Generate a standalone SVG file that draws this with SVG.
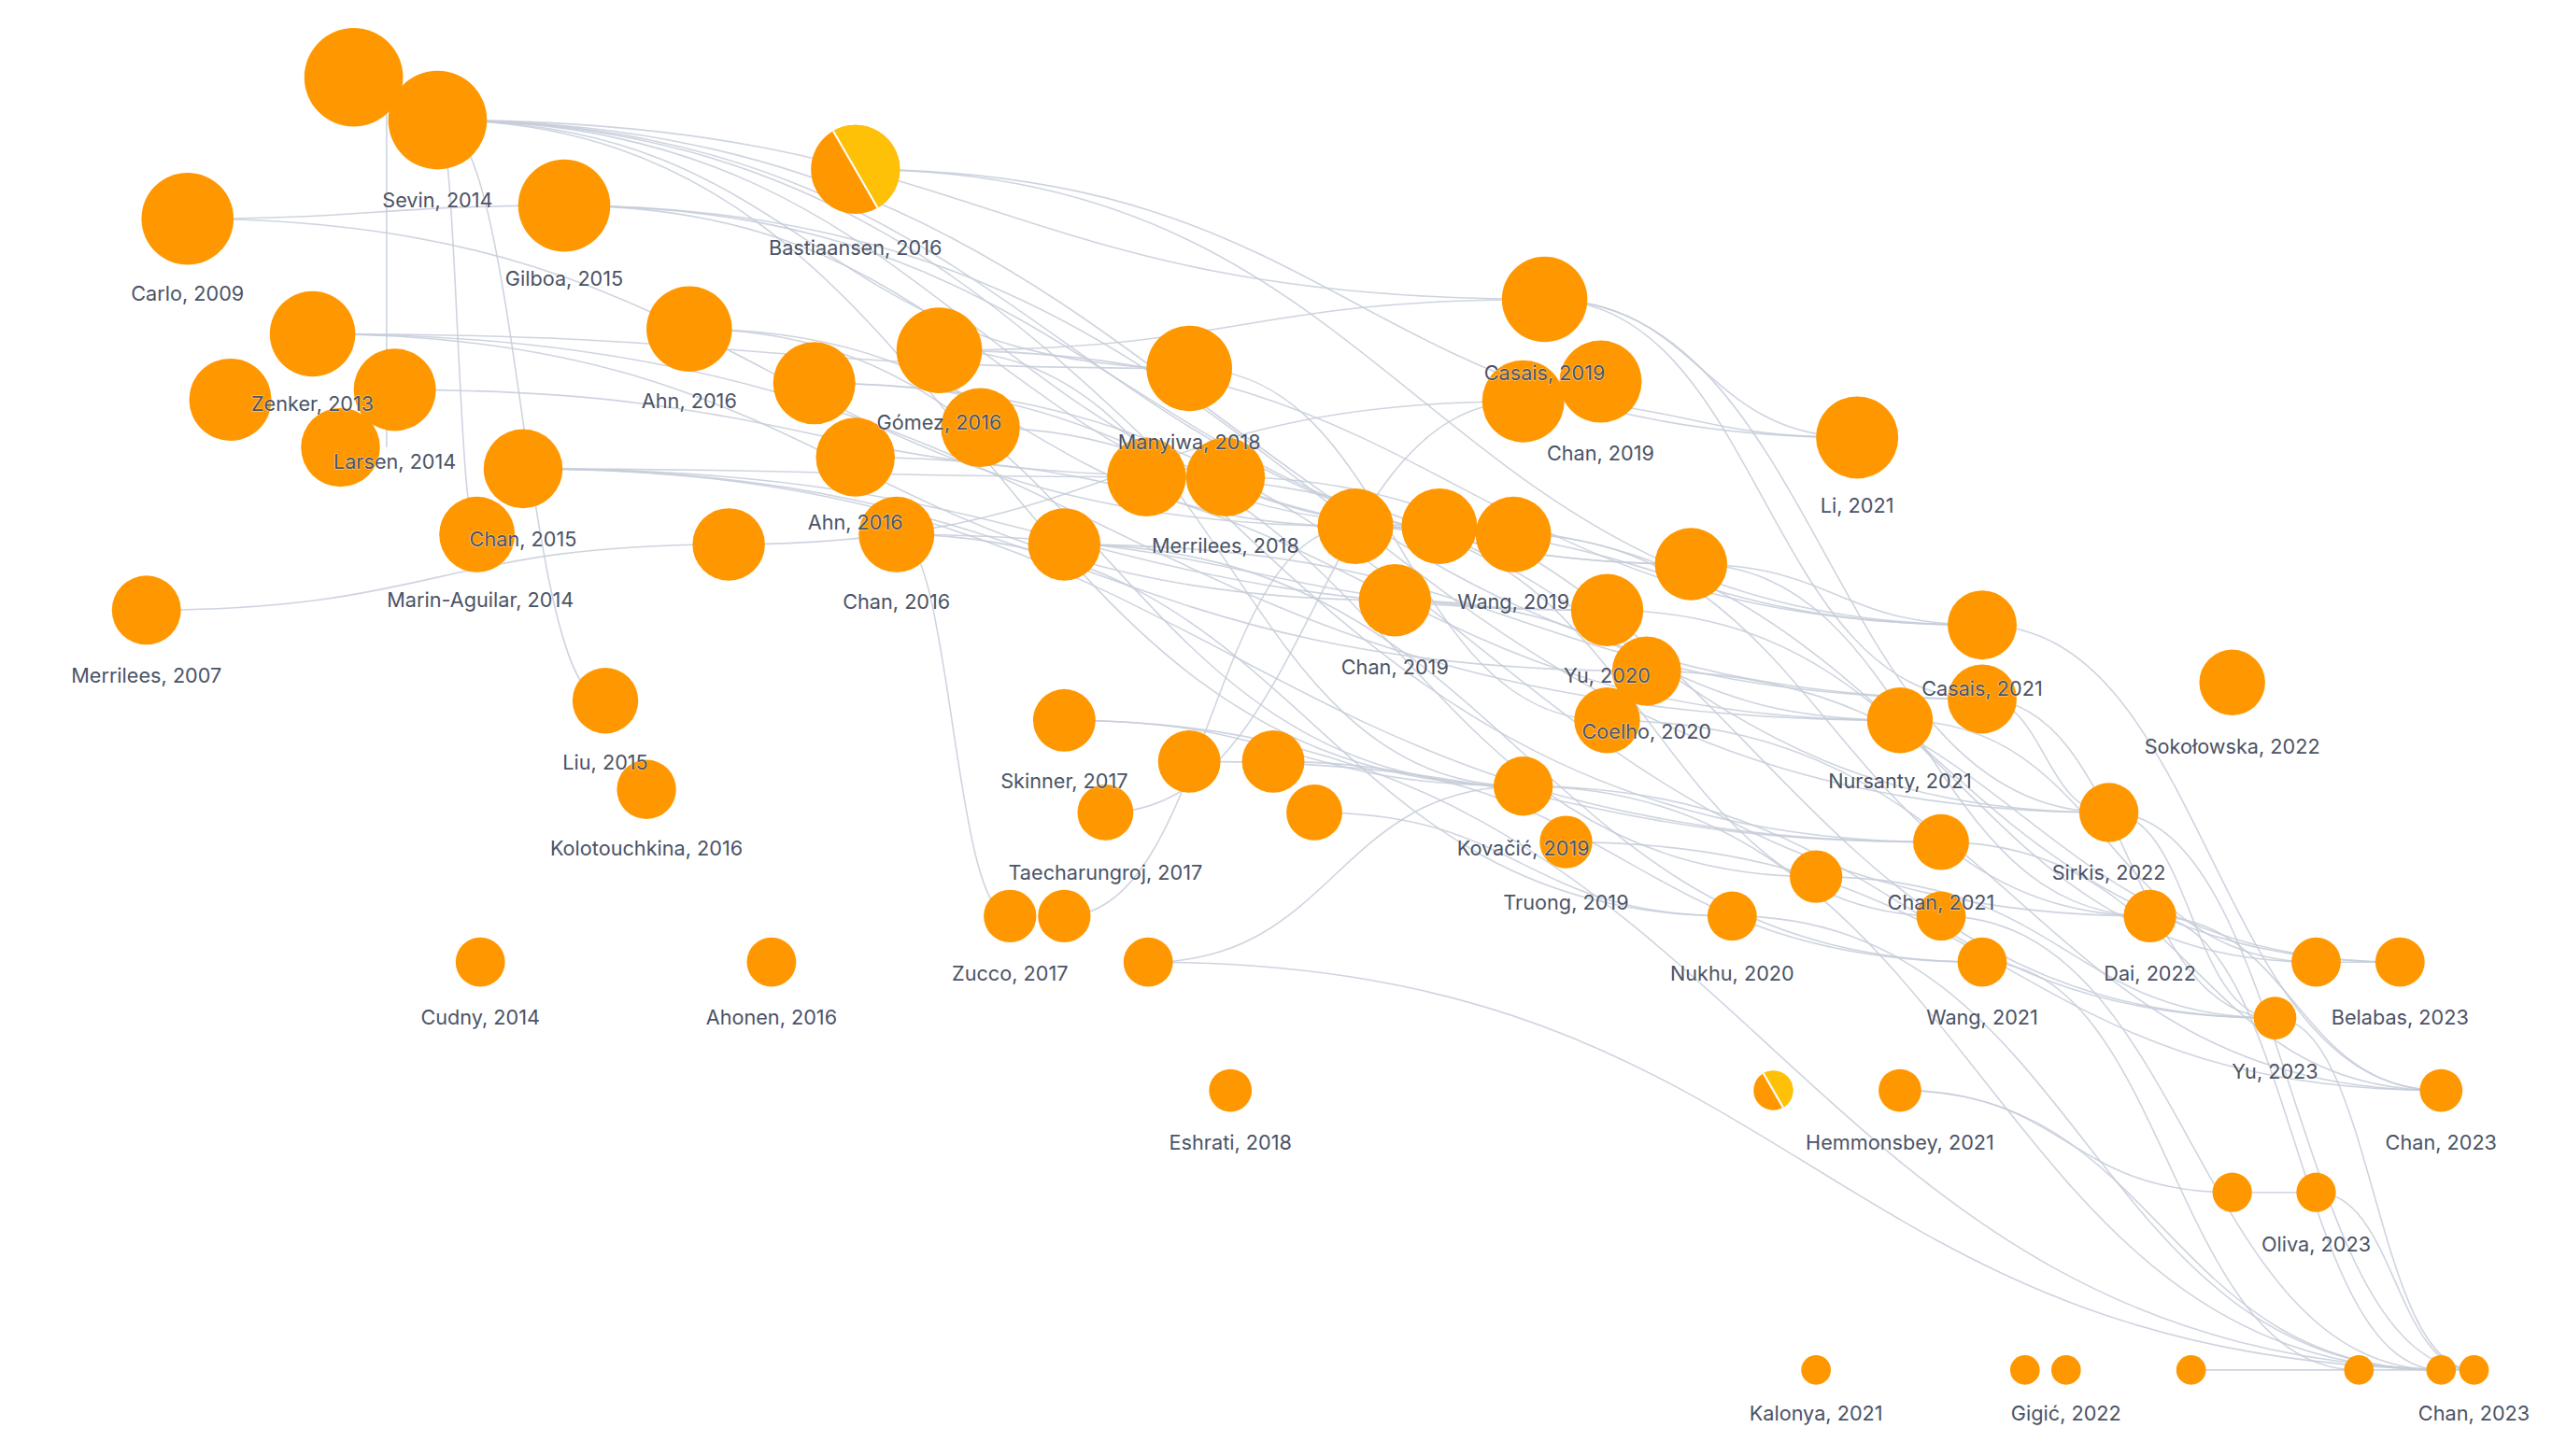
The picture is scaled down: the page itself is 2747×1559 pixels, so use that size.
<svg xmlns="http://www.w3.org/2000/svg" width="2747" height="1559" viewBox="0 0 2747 1559">
<style>
.n{fill:#ff9800}
.y{fill:#ffc107}
.sp{stroke:#fff;stroke-width:1.2}
.e{fill:none;stroke:#c5cdd9;stroke-width:0.9;opacity:0.85}
text{font-family:"Inter","Liberation Sans",sans-serif;font-size:12.3px;fill:#4b5366;text-anchor:middle;paint-order:stroke;stroke:#fff;stroke-width:0.6px;stroke-opacity:0.6}
</style>
<rect width="2747" height="1559" fill="#fff"/>
<g transform="scale(1.761)">
<g id="connectors">
<path class="e" d="M266,73 C602,73 602,182 939,182"/>
<path class="e" d="M266,73 C494,73 494,224 723,224"/>
<path class="e" d="M266,73 C593,73 593,325 920,325"/>
<path class="e" d="M266,73 C647,73 647,343 1028,343"/>
<path class="e" d="M266,73 C735,73 735,425 1205,425"/>
<path class="e" d="M266,73 C723,73 723,512 1180,512"/>
<path class="e" d="M266,73 C596,73 596,478 926,478"/>
<path class="e" d="M266,73 C278,73 278,325 290,325"/>
<path class="e" d="M266,73 C317,73 317,426 368,426"/>
<path class="e" d="M235,60 C235,160 235,200 235,272"/>
<path class="e" d="M520,103 C862,103 862,380 1205,380"/>
<path class="e" d="M520,103 C824,103 824,266 1129,266"/>
<path class="e" d="M114,133 C228,133 228,125 343,125"/>
<path class="e" d="M114,133 C469,133 469,320 824,320"/>
<path class="e" d="M343,125 C609,125 609,320 875,320"/>
<path class="e" d="M343,125 C685,125 685,343 1028,343"/>
<path class="e" d="M343,125 C812,125 812,494 1282,494"/>
<path class="e" d="M190,203 C456,203 456,224 723,224"/>
<path class="e" d="M190,203 C519,203 519,365 848,365"/>
<path class="e" d="M190,203 C672,203 672,438 1155,438"/>
<path class="e" d="M240,237 C492,237 492,290 745,290"/>
<path class="e" d="M318,285 C507,285 507,290 697,290"/>
<path class="e" d="M318,285 C647,285 647,371 977,371"/>
<path class="e" d="M318,285 C659,285 659,408 1001,408"/>
<path class="e" d="M318,285 C749,285 749,512 1180,512"/>
<path class="e" d="M419,200 C621,200 621,320 824,320"/>
<path class="e" d="M419,200 C672,200 672,478 926,478"/>
<path class="e" d="M495,233 C707,233 707,325 920,325"/>
<path class="e" d="M495,233 C901,233 901,557 1307,557"/>
<path class="e" d="M571,213 C755,213 755,182 939,182"/>
<path class="e" d="M571,213 C888,213 888,380 1205,380"/>
<path class="e" d="M571,213 C748,213 748,478 926,478"/>
<path class="e" d="M520,278 C837,278 837,438 1155,438"/>
<path class="e" d="M596,260 C850,260 850,533 1104,533"/>
<path class="e" d="M545,325 C761,325 761,371 977,371"/>
<path class="e" d="M545,325 C799,325 799,557 1053,557"/>
<path class="e" d="M443,331 C684,331 684,244 926,244"/>
<path class="e" d="M89,371 C266,371 266,331 443,331"/>
<path class="e" d="M723,224 C850,224 850,438 977,438"/>
<path class="e" d="M697,290 C989,290 989,494 1282,494"/>
<path class="e" d="M745,290 C1064,290 1064,619 1383,619"/>
<path class="e" d="M647,331 C926,331 926,425 1205,425"/>
<path class="e" d="M647,331 C926,331 926,585 1205,585"/>
<path class="e" d="M939,182 C1034,182 1034,266 1129,266"/>
<path class="e" d="M939,182 C1072,182 1072,425 1205,425"/>
<path class="e" d="M939,182 C1110,182 1110,494 1282,494"/>
<path class="e" d="M926,244 C1027,244 1027,266 1129,266"/>
<path class="e" d="M824,320 C1014,320 1014,380 1205,380"/>
<path class="e" d="M824,320 C1002,320 1002,557 1180,557"/>
<path class="e" d="M875,320 C1167,320 1167,585 1459,585"/>
<path class="e" d="M920,325 C1113,325 1113,557 1307,557"/>
<path class="e" d="M848,365 C1001,365 1001,438 1155,438"/>
<path class="e" d="M977,371 C1192,371 1192,585 1408,585"/>
<path class="e" d="M1028,343 C1116,343 1116,380 1205,380"/>
<path class="e" d="M1028,343 C1167,343 1167,557 1307,557"/>
<path class="e" d="M1001,408 C1230,408 1230,585 1459,585"/>
<path class="e" d="M977,438 C1230,438 1230,663 1484,663"/>
<path class="e" d="M1205,380 C1344,380 1344,663 1484,663"/>
<path class="e" d="M1205,425 C1294,425 1294,619 1383,619"/>
<path class="e" d="M1205,425 C1243,425 1243,494 1282,494"/>
<path class="e" d="M1155,438 C1281,438 1281,585 1408,585"/>
<path class="e" d="M647,438 C786,438 786,478 926,478"/>
<path class="e" d="M723,463 C951,463 951,512 1180,512"/>
<path class="e" d="M774,463 C989,463 989,585 1205,585"/>
<path class="e" d="M672,494 C799,494 799,244 926,244"/>
<path class="e" d="M799,494 C926,494 926,557 1053,557"/>
<path class="e" d="M926,478 C1154,478 1154,619 1383,619"/>
<path class="e" d="M952,512 C1218,512 1218,663 1484,663"/>
<path class="e" d="M614,557 C579,557 579,325 545,325"/>
<path class="e" d="M647,557 C735,557 735,320 824,320"/>
<path class="e" d="M698,585 C812,585 812,478 926,478"/>
<path class="e" d="M1104,533 C1256,533 1256,619 1383,619"/>
<path class="e" d="M1180,512 C1332,512 1332,663 1484,663"/>
<path class="e" d="M1282,494 C1332,494 1332,619 1383,619"/>
<path class="e" d="M1307,557 C1395,557 1395,663 1484,663"/>
<path class="e" d="M1408,585 C1434,585 1434,585 1459,585"/>
<path class="e" d="M1155,663 C1256,663 1256,725 1357,725"/>
<path class="e" d="M1357,725 C1383,725 1383,725 1408,725"/>
<path class="e" d="M1155,663 C1315,663 1315,833 1484,833"/>
<path class="e" d="M1053,557 C1268,557 1268,833 1484,833"/>
<path class="e" d="M926,478 C1205,478 1205,833 1484,833"/>
<path class="e" d="M647,438 C1075,438 1075,833 1504,833"/>
<path class="e" d="M698,585 C1101,585 1101,833 1504,833"/>
<path class="e" d="M1180,557 C1332,557 1332,833 1484,833"/>
<path class="e" d="M1205,585 C1319,585 1319,833 1434,833"/>
<path class="e" d="M1282,494 C1393,494 1393,833 1504,833"/>
<path class="e" d="M1307,557 C1395,557 1395,833 1484,833"/>
<path class="e" d="M1383,619 C1443,619 1443,833 1504,833"/>
<path class="e" d="M1408,725 C1456,725 1456,833 1504,833"/>
<path class="e" d="M1332,833 C1408,833 1408,833 1484,833"/>
</g>
<g id="n1"><circle class="n" cx="215" cy="47" r="30"/></g>
<g id="n2"><circle class="n" cx="266" cy="73" r="30"/><text x="266" y="126">Sevin, 2014</text></g>
<g id="n3"><circle class="n" cx="520" cy="103" r="27"/><path class="y" d="M506.5,79.6 A27,27 0 0 1 533.5,126.4 Z"/><line class="sp" x1="506.5" y1="79.6" x2="533.5" y2="126.4"/><text x="520" y="155">Bastiaansen, 2016</text></g>
<g id="n4"><circle class="n" cx="114" cy="133" r="28"/><text x="114" y="183">Carlo, 2009</text></g>
<g id="n5"><circle class="n" cx="343" cy="125" r="28"/><text x="343" y="174">Gilboa, 2015</text></g>
<g id="n6"><circle class="n" cx="190" cy="203" r="26"/></g>
<g id="n7"><circle class="n" cx="140" cy="243" r="25"/></g>
<g id="n8"><circle class="n" cx="240" cy="237" r="25"/></g>
<g id="n9"><circle class="n" cx="207" cy="272" r="24"/></g>
<g id="n10"><circle class="n" cx="318" cy="285" r="24"/></g>
<g id="n11"><circle class="n" cx="290" cy="325" r="23"/></g>
<g id="n12"><circle class="n" cx="419" cy="200" r="26"/><text x="419" y="248">Ahn, 2016</text></g>
<g id="n13"><circle class="n" cx="495" cy="233" r="25"/></g>
<g id="n14"><circle class="n" cx="571" cy="213" r="26"/></g>
<g id="n15"><circle class="n" cx="520" cy="278" r="24"/></g>
<g id="n16"><circle class="n" cx="596" cy="260" r="24"/></g>
<g id="n17"><circle class="n" cx="545" cy="325" r="23"/></g>
<g id="n18"><circle class="n" cx="443" cy="331" r="22"/></g>
<g id="n19"><circle class="n" cx="89" cy="371" r="21"/><text x="89" y="415">Merrilees, 2007</text></g>
<g id="n20"><circle class="n" cx="723" cy="224" r="26"/></g>
<g id="n21"><circle class="n" cx="697" cy="290" r="24"/></g>
<g id="n22"><circle class="n" cx="745" cy="290" r="24"/></g>
<g id="n23"><circle class="n" cx="647" cy="331" r="22"/></g>
<g id="n24"><circle class="n" cx="939" cy="182" r="26"/></g>
<g id="n25"><circle class="n" cx="973" cy="232" r="25"/></g>
<g id="n26"><circle class="n" cx="926" cy="244" r="25"/></g>
<g id="n27"><circle class="n" cx="1129" cy="266" r="25"/><text x="1129" y="312">Li, 2021</text></g>
<g id="n28"><circle class="n" cx="824" cy="320" r="23"/></g>
<g id="n29"><circle class="n" cx="875" cy="320" r="23"/></g>
<g id="n30"><circle class="n" cx="920" cy="325" r="23"/></g>
<g id="n31"><circle class="n" cx="848" cy="365" r="22"/><text x="848" y="410">Chan, 2019</text></g>
<g id="n32"><circle class="n" cx="977" cy="371" r="22"/></g>
<g id="n33"><circle class="n" cx="1028" cy="343" r="22"/></g>
<g id="n34"><circle class="n" cx="1001" cy="408" r="21"/></g>
<g id="n35"><circle class="n" cx="977" cy="438" r="20"/></g>
<g id="n36"><circle class="n" cx="1205" cy="380" r="21"/></g>
<g id="n37"><circle class="n" cx="1205" cy="425" r="21"/></g>
<g id="n38"><circle class="n" cx="1155" cy="438" r="20"/><text x="1155" y="479">Nursanty, 2021</text></g>
<g id="n39"><circle class="n" cx="1357" cy="415" r="20"/><text x="1357" y="458">Sokołowska, 2022</text></g>
<g id="n40"><circle class="n" cx="368" cy="426" r="20"/></g>
<g id="n41"><circle class="n" cx="393" cy="480" r="18"/><text x="393" y="520">Kolotouchkina, 2016</text></g>
<g id="n42"><circle class="n" cx="647" cy="438" r="19"/></g>
<g id="n43"><circle class="n" cx="723" cy="463" r="19"/></g>
<g id="n44"><circle class="n" cx="774" cy="463" r="19"/></g>
<g id="n45"><circle class="n" cx="672" cy="494" r="17"/><text x="672" y="535">Taecharungroj, 2017</text></g>
<g id="n46"><circle class="n" cx="799" cy="494" r="17"/></g>
<g id="n47"><circle class="n" cx="926" cy="478" r="18"/></g>
<g id="n48"><circle class="n" cx="952" cy="512" r="16"/><text x="952" y="553">Truong, 2019</text></g>
<g id="n49"><circle class="n" cx="614" cy="557" r="16"/></g>
<g id="n50"><circle class="n" cx="647" cy="557" r="16"/></g>
<g id="n51"><circle class="n" cx="698" cy="585" r="15"/></g>
<g id="n52"><circle class="n" cx="292" cy="585" r="15"/><text x="292" y="623">Cudny, 2014</text></g>
<g id="n53"><circle class="n" cx="469" cy="585" r="15"/><text x="469" y="623">Ahonen, 2016</text></g>
<g id="n54"><circle class="n" cx="748" cy="663" r="13"/><text x="748" y="699">Eshrati, 2018</text></g>
<g id="n55"><circle class="n" cx="1053" cy="557" r="15"/><text x="1053" y="596">Nukhu, 2020</text></g>
<g id="n56"><circle class="n" cx="1104" cy="533" r="16"/></g>
<g id="n57"><circle class="n" cx="1180" cy="512" r="17"/></g>
<g id="n58"><circle class="n" cx="1180" cy="557" r="15"/></g>
<g id="n59"><circle class="n" cx="1205" cy="585" r="15"/><text x="1205" y="623">Wang, 2021</text></g>
<g id="n60"><circle class="n" cx="1282" cy="494" r="18"/><text x="1282" y="535">Sirkis, 2022</text></g>
<g id="n61"><circle class="n" cx="1307" cy="557" r="16"/><text x="1307" y="596">Dai, 2022</text></g>
<g id="n62"><circle class="n" cx="1408" cy="585" r="15"/></g>
<g id="n63"><circle class="n" cx="1459" cy="585" r="15"/></g>
<g id="n64"><circle class="n" cx="1383" cy="619" r="13"/><text x="1383" y="656">Yu, 2023</text></g>
<g id="n65"><circle class="n" cx="1484" cy="663" r="13"/><text x="1484" y="699">Chan, 2023</text></g>
<g id="n66"><circle class="n" cx="1078" cy="663" r="12"/><path class="y" d="M1072,652.6 A12,12 0 0 1 1084,673.4 Z"/><line class="sp" x1="1072" y1="652.6" x2="1084" y2="673.4"/></g>
<g id="n67"><circle class="n" cx="1155" cy="663" r="13"/><text x="1155" y="699">Hemmonsbey, 2021</text></g>
<g id="n68"><circle class="n" cx="1357" cy="725" r="12"/></g>
<g id="n69"><circle class="n" cx="1408" cy="725" r="12"/><text x="1408" y="761">Oliva, 2023</text></g>
<g id="n70"><circle class="n" cx="1104" cy="833" r="9"/><text x="1104" y="864">Kalonya, 2021</text></g>
<g id="n71"><circle class="n" cx="1231" cy="833" r="9"/></g>
<g id="n72"><circle class="n" cx="1256" cy="833" r="9"/><text x="1256" y="864">Gigić, 2022</text></g>
<g id="n73"><circle class="n" cx="1332" cy="833" r="9"/></g>
<g id="n74"><circle class="n" cx="1434" cy="833" r="9"/></g>
<g id="n75"><circle class="n" cx="1484" cy="833" r="9"/></g>
<g id="n76"><circle class="n" cx="1504" cy="833" r="9"/><text x="1504" y="864">Chan, 2023</text></g>
<g id="labels">
<text x="190" y="250">Zenker, 2013</text>
<text x="240" y="285">Larsen, 2014</text>
<text x="318" y="332">Chan, 2015</text>
<text x="292" y="369">Marin-Aguilar, 2014</text>
<text x="571" y="261">Gómez, 2016</text>
<text x="520" y="322">Ahn, 2016</text>
<text x="545" y="370">Chan, 2016</text>
<text x="723" y="273">Manyiwa, 2018</text>
<text x="745" y="336">Merrilees, 2018</text>
<text x="939" y="231">Casais, 2019</text>
<text x="973" y="280">Chan, 2019</text>
<text x="920" y="370">Wang, 2019</text>
<text x="977" y="415">Yu, 2020</text>
<text x="1001" y="449">Coelho, 2020</text>
<text x="1205" y="423">Casais, 2021</text>
<text x="368" y="468">Liu, 2015</text>
<text x="647" y="479">Skinner, 2017</text>
<text x="926" y="520">Kovačić, 2019</text>
<text x="614" y="596">Zucco, 2017</text>
<text x="1180" y="553">Chan, 2021</text>
<text x="1459" y="623">Belabas, 2023</text>
</g>
</g>
</svg>
